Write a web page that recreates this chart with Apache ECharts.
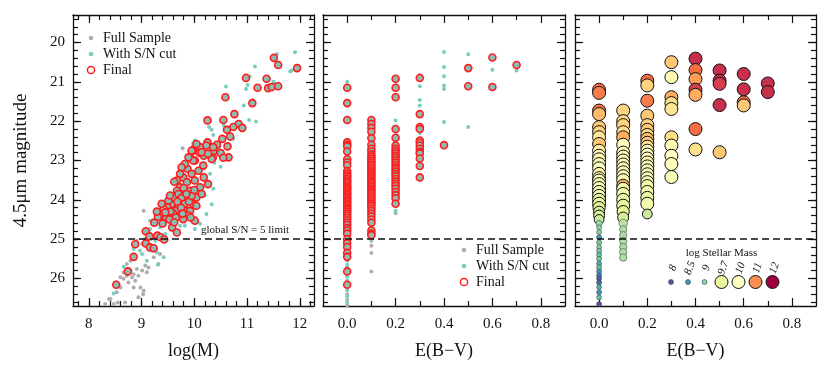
<!DOCTYPE html>
<html>
<head>
<meta charset="utf-8">
<script src="https://cdn.jsdelivr.net/npm/echarts@6/dist/echarts.min.js"></script>
<style>
  html, body { margin: 0; padding: 0; background: #fff; }
  #chart { width: 830px; height: 369px; }
</style>
</head>
<body>
<div id="chart"></div>
<script>
// ---------- data ----------
const massTicks = [8, 9, 10, 11, 12]
const ebvTicks = [0, 0.2, 0.4, 0.6, 0.8]
const magTicks = [20, 21, 22, 23, 24, 25, 26]
const snLimit = 25

// panel 1: [log(M), 4.5um mag]
const p1Full = [
  [9.04,24.28],[9.78,22.69],[8.79,25.80],[8.85,25.89],[8.72,25.93],[8.66,26.01],[8.60,25.97],[8.75,26.10],
  [8.88,26.06],[8.94,25.93],[8.91,25.76],[9.01,25.80],[9.07,25.67],[9.10,25.84],[8.98,26.23],[8.94,26.48],
  [8.60,26.23],[8.53,26.35],[8.41,26.52],[8.31,26.65],[8.69,26.61],[9.20,25.29],[9.23,25.46],[9.32,25.63],
  [8.79,25.55],[8.72,25.63],[8.88,25.42],[9.01,25.12],[9.07,24.99],[8.91,25.04],[9.35,25.38],[9.13,25.72],
  [8.85,26.23],[8.66,25.85],[8.50,26.10],[8.82,25.97],[9.03,26.40],[8.47,26.65],[9.04,26.31],[8.38,26.52],
  [8.55,26.61],[8.50,26.14]
]
const p1Cut = [
  [11.91,20.25],[11.57,20.29],[11.82,20.73],[11.85,20.71],[11.15,20.61],[11.50,21.00],[11.54,21.05],[11.01,21.08],
  [10.98,21.18],[11.05,20.86],[10.60,21.12],[10.94,21.60],[11.11,21.46],[11.04,21.97],[11.17,22.01],[10.28,22.15],
  [10.33,22.22],[10.56,22.11],[10.36,22.35],[10.69,22.46],[10.74,22.45],[10.42,22.73],[10.47,22.68],[9.98,22.56],
  [10.28,22.79],[10.30,22.92],[10.38,23.06],[10.50,23.16],[10.30,22.75],[10.39,22.96],[10.20,23.89],[10.33,24.11],
  [10.23,24.36],[10.11,24.61],[9.82,24.66],[9.42,25.46],[9.31,25.65],[9.10,25.55],[8.97,25.29],[9.01,25.38],
  [8.85,25.25],[8.66,25.70],[8.47,26.38],[9.16,24.74],[9.35,24.70],[9.45,24.87],[9.73,24.66],[10.01,24.74],
  [9.54,24.70],[9.26,25.04],[9.29,25.34],[9.10,25.12],[9.16,24.53],[9.51,24.45],[10.30,23.34],[10.36,23.72],
  [9.73,23.30],[10.01,22.49],[9.98,22.62],[8.91,25.12]
]
const p1Final = [
  [11.51,20.39],[11.59,20.57],[11.95,20.65],[10.98,20.90],[11.37,20.92],[11.20,21.15],[11.40,21.16],[11.47,21.13],
  [11.59,21.11],[10.59,21.39],[11.10,21.54],[10.76,21.82],[10.25,21.98],[10.55,21.97],[10.84,22.07],[10.91,22.17],
  [10.74,22.15],[10.62,22.22],[10.68,22.39],[10.53,22.45],[10.25,22.54],[10.43,22.60],[10.63,22.64],[10.36,22.77],
  [10.65,22.92],[10.50,22.81],[10.55,22.93],[9.97,22.75],[10.11,22.66],[10.10,22.80],[10.18,22.88],[10.35,22.92],
  [9.92,22.92],[10.01,23.00],[9.83,23.17],[10.23,22.62],
  [9.73,23.68],[9.79,23.89],[9.86,24.02],[9.73,24.02],[9.92,23.77],[9.70,24.15],[9.84,24.28],[9.92,24.28],
  [9.98,24.11],[10.04,24.15],[9.79,23.43],[9.87,23.21],[9.98,23.00],[10.08,23.26],[10.01,23.51],[10.11,23.68],
  [10.18,23.43],[10.26,23.60],[10.14,22.79],[10.04,22.58],[9.95,22.75],[10.33,22.96],[10.36,22.66],[9.82,23.09],
  [9.73,23.34],[9.67,23.77],[9.57,24.11],[9.49,24.19],[9.73,24.32],[9.89,24.40],[9.79,24.49],[9.64,24.28],
  [9.60,23.94],[9.51,24.02],[9.42,24.23],[9.35,24.40],[9.67,23.51],[9.86,23.55],[9.95,23.34],[10.04,23.94],
  [10.14,23.85],[10.01,24.53],[10.17,23.13],[10.26,22.83],[9.89,22.92],[9.76,23.17],
  [9.70,23.85],[9.76,23.95],[9.82,24.10],[9.68,24.05],[9.75,24.20],[9.90,24.05],[9.95,23.90],[9.80,23.70],
  [9.60,24.35],[9.85,23.85],[9.78,24.35],[9.93,24.45],[10.00,23.75],[9.65,24.45],[9.55,24.30],[9.47,24.45],
  [9.40,24.60],[9.58,24.70],
  [8.52,26.16],[8.74,25.82],[8.85,25.45],[8.88,25.13],[9.08,24.80],[9.08,25.11],[9.16,25.21],[9.23,25.23],
  [9.15,24.93],[9.30,24.91],[9.36,24.95],[9.43,25.01],[9.67,24.83],[9.24,24.58],[9.31,24.43],[9.29,24.30],
  [9.38,24.10],[9.45,24.32],[9.53,24.50],[9.62,24.57],[9.54,23.89],[9.62,23.54]
]

// panel 2: magnitudes per E(B-V) column
const p2Full = [
  [0.0, [25.50, 25.70, 25.90, 26.20, 26.40, 26.55, 26.68]],
  [0.1, [25.04, 25.17, 25.35, 25.82]],
  [0.2, [24.34]]
]
const p2Cut = [
  [0.0, [21.00, 23.09, 23.20, 25.05, 25.30, 25.55, 25.65, 25.95, 26.05, 26.30, 26.45, 26.60]],
  [0.1, [22.35, 22.50, 25.00]],
  [0.2, [21.98, 22.50, 24.28]],
  [0.3, [21.11, 21.46, 21.60, 22.30, 22.62]],
  [0.4, [20.24, 20.62, 20.86, 21.09, 21.18, 22.02]],
  [0.5, [20.30, 20.69, 22.15]],
  [0.6, [20.69, 21.09]],
  [0.7, [20.71]]
]
const p2Final = [
  [0.0, [21.15, 21.54, 21.97, 22.54, 22.60, 22.64, 22.77, 22.97, 23.05, 23.12, 23.27, 23.33, 23.38, 23.42, 23.47,
         23.52, 23.56, 23.61, 23.66, 23.70, 23.74, 23.79, 23.83, 23.88, 23.93, 23.97, 24.02, 24.06, 24.11, 24.16,
         24.21, 24.25, 24.30, 24.35, 24.40, 24.46, 24.52, 24.58, 24.64, 24.72, 24.78, 24.86, 25.00, 25.10, 25.20,
         25.35, 25.45, 25.82, 26.16]],
  [0.1, [21.97, 22.07, 22.17, 22.27, 22.43, 22.60, 22.70, 22.77, 22.85, 22.90, 22.95, 23.00, 23.05, 23.10, 23.14,
         23.19, 23.24, 23.29, 23.34, 23.38, 23.43, 23.48, 23.53, 23.57, 23.62, 23.67, 23.72, 23.76, 23.81, 23.86,
         23.91, 23.96, 24.01, 24.06, 24.11, 24.16, 24.22, 24.28, 24.35, 24.42, 24.50, 24.58, 24.78, 24.86, 24.90]],
  [0.2, [20.92, 21.15, 21.39, 22.20, 22.42, 22.62, 22.70, 22.76, 22.82, 22.88, 22.93, 22.99, 23.05, 23.11, 23.17,
         23.22, 23.28, 23.34, 23.40, 23.47, 23.53, 23.59, 23.65, 23.72, 23.80, 23.88, 23.96, 24.10]],
  [0.3, [20.90, 21.82, 22.15, 22.20, 22.49, 22.55, 22.62, 22.70, 22.78, 22.82, 22.95, 23.14, 23.43]],
  [0.4, [22.61]],
  [0.5, [20.65, 21.11]],
  [0.6, [20.38, 21.13]],
  [0.7, [20.57]]
]

// panel 3: [E(B-V), mag, log stellar mass]
const p3Points = [
  [0,21.20,11.2],[0,21.28,11.1],[0,21.73,11.2],[0,21.82,10.7],[0,22.15,10.6],[0,22.28,10.5],[0,22.41,10.3],
  [0,22.58,10.6],[0,22.75,10.2],[0,22.88,10.0],[0,22.97,10.1],[0,23.09,9.9],[0,23.20,10.0],[0,23.34,10.1],
  [0,23.45,9.9],[0,23.51,10.0],[0,23.60,9.9],[0,23.70,10.0],[0,23.80,9.8],[0,23.90,9.9],[0,24.00,9.7],
  [0,24.10,9.7],[0,24.20,9.6],[0,24.30,9.5],[0,24.40,9.5],[0,24.50,9.4],[0,24.60,9.1],[0,24.70,9.0],
  [0,24.82,9.0],[0,24.95,8.5],[0,25.08,8.9],[0,25.20,9.0],[0,25.30,8.9],[0,25.40,8.8],[0,25.50,8.9],
  [0,25.62,8.6],[0,25.72,8.8],[0,25.82,8.5],[0,25.92,8.4],[0,26.00,8.1],[0,26.10,8.2],[0,26.22,8.7],
  [0,26.35,8.5],[0,26.48,8.8],[0,26.65,8.0],
  [0.1,21.73,10.5],[0.1,22.00,10.4],[0.1,22.10,10.5],[0.1,22.28,10.4],[0.1,22.41,10.8],[0.1,22.60,10.0],
  [0.1,22.80,10.0],[0.1,22.90,10.1],[0.1,23.00,10.0],[0.1,23.10,9.9],[0.1,23.20,10.0],[0.1,23.30,9.9],
  [0.1,23.40,10.0],[0.1,23.50,9.9],[0.1,23.64,10.8],[0.1,23.72,9.8],[0.1,23.85,9.8],[0.1,24.00,9.7],
  [0.1,24.15,9.7],[0.1,24.30,9.6],[0.1,24.45,9.5],[0.1,24.60,9.3],[0.1,24.75,9.2],[0.1,24.90,9.2],
  [0.1,25.05,9.2],[0.1,25.20,9.2],[0.1,25.33,9.2],[0.1,25.47,9.2],
  [0.2,20.97,11.2],[0.2,21.09,10.5],[0.2,21.48,11.1],[0.2,21.86,10.6],[0.2,22.10,10.5],[0.2,22.22,10.6],
  [0.2,22.35,10.4],[0.2,22.45,10.7],[0.2,22.55,10.6],[0.2,22.65,10.3],[0.2,22.75,10.1],[0.2,22.85,10.0],
  [0.2,22.95,10.0],[0.2,23.05,10.1],[0.2,23.15,9.9],[0.2,23.25,10.0],[0.2,23.35,9.9],[0.2,23.45,10.0],
  [0.2,23.55,9.9],[0.2,23.65,9.8],[0.2,23.80,9.8],[0.2,23.95,9.7],[0.2,24.10,9.8],[0.2,24.36,9.4],
  [0.3,20.50,10.6],[0.3,20.88,10.1],[0.3,21.39,10.8],[0.3,21.54,10.4],[0.3,21.69,10.3],[0.3,22.41,10.4],
  [0.3,22.62,10.1],[0.3,22.88,10.0],[0.3,23.09,10.0],[0.3,23.42,9.9],
  [0.4,20.41,11.7],[0.4,20.70,11.2],[0.4,20.93,10.9],[0.4,21.20,11.6],[0.4,21.33,10.8],[0.4,22.20,11.2],[0.4,22.72,10.4],
  [0.5,20.71,11.7],[0.5,20.97,11.7],[0.5,21.05,11.6],[0.5,21.59,11.7],[0.5,22.79,10.6],
  [0.6,20.80,11.7],[0.6,21.19,11.7],[0.6,21.52,11.2],[0.6,21.60,10.6],
  [0.7,21.04,11.7],[0.7,21.26,11.7]
]
const legendMasses = [8, 8.5, 9, 9.7, 10, 11, 12]

// ---------- styling ----------
const FONT = '"Liberation Serif", "DejaVu Serif", serif'
const INK = '#111'
const GREY = '#aeaeae'
const TEAL = '#7bcdbc'
const RED = '#ff1c1c'
const MAG_MIN = 19.3, MAG_MAX = 26.7
const SPECTRAL = ['#5e4fa2','#3288bd','#66c2a5','#abdda4','#e6f598','#ffffbf','#fee08b','#fdae61','#f46d43','#d53e4f','#9e0142']

const grids = [
  { left: 73,  top: 15, width: 241, height: 291 },
  { left: 323, top: 15, width: 242, height: 291 },
  { left: 575, top: 15, width: 241, height: 291 },
]

function steps(a, b, step) {
  const out = []
  for (let v = a; v <= b + 1e-9; v += step) out.push(+v.toFixed(2))
  return out
}

// spectral_r colormap over log M = 8..12
function spectral(m) {
  const t = Math.min(Math.max((m - 8) / 4, 0), 1) * 10
  const i = Math.min(Math.floor(t), 9), f = t - i
  const a = SPECTRAL[i], b = SPECTRAL[i + 1]
  const ch = (h, k) => parseInt(h.slice(1 + 2 * k, 3 + 2 * k), 16)
  const c = [0, 1, 2].map(k => Math.round(ch(a, k) + (ch(b, k) - ch(a, k)) * f))
  return `rgb(${c.join(',')})`
}
function massSize(m) {
  return Math.min(Math.max(5 + (m - 9) * 12, 5), 13)
}

const lineStyle = { color: INK, width: 1.3 }
const noLine = { show: false, onZero: false }
const MAJOR_LEN = 8, MINOR_LEN = 5

function tick(vals, len) {
  return { show: true, inside: true, length: len, customValues: vals, lineStyle: { color: INK, width: 1.2 } }
}

function xAxes(g, min, max, major, minor, name, fmt) {
  const base = { gridIndex: g, type: 'value', min, max, splitLine: { show: false } }
  return [
    { ...base, position: 'bottom', name, nameLocation: 'middle', nameGap: 36,
      nameTextStyle: { fontFamily: FONT, fontSize: 18, color: INK },
      axisLine: { show: true, onZero: false, lineStyle },
      axisTick: tick(major, MAJOR_LEN),
      axisLabel: { show: true, customValues: major, margin: 11, fontFamily: FONT, fontSize: 15, color: INK, formatter: fmt } },
    { ...base, position: 'bottom', axisLine: noLine, axisTick: tick(minor, MINOR_LEN), axisLabel: { show: false } },
    { ...base, position: 'top', axisLine: { show: true, onZero: false, lineStyle }, axisTick: tick(major, MAJOR_LEN), axisLabel: { show: false } },
    { ...base, position: 'top', axisLine: noLine, axisTick: tick(minor, MINOR_LEN), axisLabel: { show: false } },
  ]
}

function yAxes(g, withLabels) {
  const base = { gridIndex: g, type: 'value', inverse: true, min: MAG_MIN, max: MAG_MAX, splitLine: { show: false } }
  const minor = steps(19.4, 26.6, 0.2)
  return [
    { ...base, position: 'left',
      name: withLabels ? '4.5μm magnitude' : '', nameLocation: 'middle', nameGap: 42,
      nameTextStyle: { fontFamily: FONT, fontSize: 19, color: INK },
      axisLine: { show: true, onZero: false, lineStyle },
      axisTick: tick(magTicks, MAJOR_LEN),
      axisLabel: { show: withLabels, customValues: magTicks, margin: 8, fontFamily: FONT, fontSize: 15, color: INK } },
    { ...base, position: 'left', axisLine: noLine, axisTick: tick(minor, MINOR_LEN), axisLabel: { show: false } },
    { ...base, position: 'right', axisLine: { show: true, onZero: false, lineStyle }, axisTick: tick(magTicks, MAJOR_LEN), axisLabel: { show: false } },
    { ...base, position: 'right', axisLine: noLine, axisTick: tick(minor, MINOR_LEN), axisLabel: { show: false } },
  ]
}

const ebvMinor = [0.1, 0.3, 0.5, 0.7]
const ebvFmt = v => v.toFixed(1)
const xAxis = [
  ...xAxes(0, 7.7, 12.27, massTicks, steps(7.8, 12.2, 0.2), 'log(M)', v => String(v)),
  ...xAxes(1, -0.1, 0.9, ebvTicks, ebvMinor, 'E(B−V)', ebvFmt),
  ...xAxes(2, -0.1, 0.9, ebvTicks, ebvMinor, 'E(B−V)', ebvFmt),
]
const yAxis = [...yAxes(0, true), ...yAxes(1, false), ...yAxes(2, false)]

const limitLine = {
  silent: true, symbol: 'none', animation: false,
  lineStyle: { color: INK, width: 1.5, type: [7, 4] },
  label: { show: false },
  data: [{ yAxis: snLimit }]
}

const flatCols = cols => cols.flatMap(([e, mags]) => mags.map(m => [e, m]))

function dots(g, name, data, color, extra) {
  return {
    type: 'scatter', name, xAxisIndex: g * 4, yAxisIndex: g * 4, data,
    symbolSize: 4, itemStyle: { color, opacity: 1 }, silent: true, ...extra
  }
}
function rings(g, data) {
  return {
    type: 'scatter', name: 'Final', xAxisIndex: g * 4, yAxisIndex: g * 4, data,
    symbolSize: 7, silent: true,
    itemStyle: { color: '#8fbab2', borderColor: RED, borderWidth: 1.6, opacity: 1 }
  }
}

const p3Data = p3Points.map(([e, m, lm]) => ({
  value: [e, m, lm],
  symbolSize: massSize(lm),
  itemStyle: {
    color: spectral(lm),
    opacity: 1,
    borderColor: lm >= 9.4 ? '#111' : '#333',
    borderWidth: lm >= 9.4 ? 1 : 0.5
  }
}))

const series = [
  dots(0, 'Full Sample', p1Full, GREY, { markLine: limitLine }),
  dots(0, 'With S/N cut', p1Cut, TEAL),
  rings(0, p1Final),
  dots(1, 'Full Sample', flatCols(p2Full), GREY, { markLine: limitLine }),
  dots(1, 'With S/N cut', flatCols(p2Cut), TEAL),
  rings(1, flatCols(p2Final)),
  { type: 'scatter', name: 'log Stellar Mass', xAxisIndex: 8, yAxisIndex: 8, data: p3Data,
    silent: true, itemStyle: { opacity: 1 }, markLine: limitLine },
]

// legends drawn as graphics so marker sizes match the figure
const txt = (x, y, text, size, extra) => ({
  type: 'text', x, y, silent: true,
  style: { text, fontFamily: FONT, fontSize: size, fill: INK, verticalAlign: 'middle', ...extra }
})
const dot = (cx, cy, r, style) => ({ type: 'circle', shape: { cx, cy, r }, silent: true, style })

function sampleLegend(x, y) {
  return [
    dot(x, y, 2.3, { fill: GREY }),
    txt(x + 12, y, 'Full Sample', 14),
    dot(x, y + 16, 2.3, { fill: TEAL }),
    txt(x + 12, y + 16, 'With S/N cut', 14),
    dot(x, y + 32, 3.6, { fill: 'none', stroke: RED, lineWidth: 1.5 }),
    txt(x + 12, y + 32, 'Final', 14),
  ]
}

const massLegendX = [671, 688, 704.5, 721.5, 738.5, 755.5, 772.5]
const massLegend = [txt(721.5, 253, 'log Stellar Mass', 11, { align: 'center' })]
legendMasses.forEach((m, i) => {
  const cx = massLegendX[i]
  massLegend.push(dot(cx, 282, massSize(m) / 2, {
    fill: spectral(m), stroke: m >= 9.4 ? '#111' : '#333', lineWidth: m >= 9.4 ? 1 : 0.5
  }))
  massLegend.push({
    type: 'text', x: cx + 2, y: 268, rotation: Math.PI * 70 / 180, silent: true,
    style: { text: String(m), fontFamily: FONT, fontSize: 11, fontStyle: 'italic', fill: INK, align: 'center', verticalAlign: 'middle' }
  })
})

const graphic = [
  ...sampleLegend(91, 38),
  ...sampleLegend(464, 250),
  txt(201, 230, 'global S/N = 5 limit', 11),
  ...massLegend,
]

const chart = echarts.init(document.getElementById('chart'), null, { renderer: 'canvas' })
chart.setOption({
  animation: false,
  backgroundColor: '#fff',
  grid: grids,
  xAxis, yAxis, series, graphic
})
</script>
</body>
</html>
